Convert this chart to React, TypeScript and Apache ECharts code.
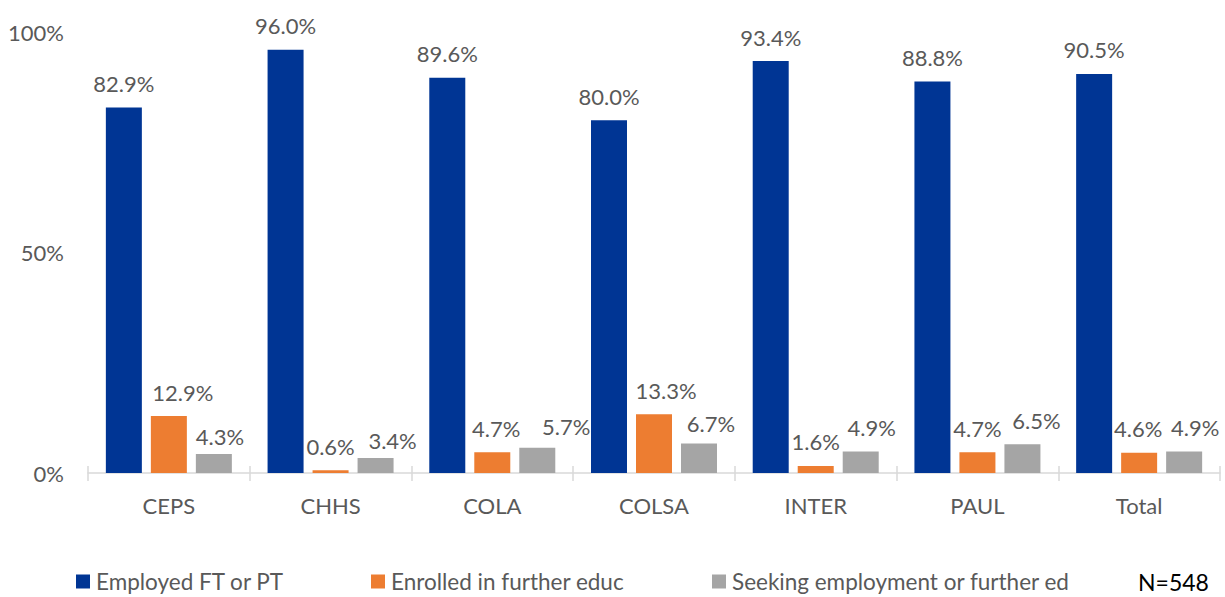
import React, { useEffect, useRef } from "react";
import * as echarts from "echarts";

const categories = ["CEPS", "CHHS", "COLA", "COLSA", "INTER", "PAUL", "Total"];
const employed = [82.9, 96.0, 89.6, 80.0, 93.4, 88.8, 90.5];
const enrolled = [12.9, 0.6, 4.7, 13.3, 1.6, 4.7, 4.6];
const seeking = [4.3, 3.4, 5.7, 6.7, 4.9, 6.5, 4.9];
const seriesNames = ["Employed FT or PT", "Enrolled in further educ", "Seeking employment or further ed"];
const colors = ["#003594", "#ED7D31", "#A5A5A5"];
const yTicks = [0, 50, 100];
const noteText = "N=548";

// label nudges (layout only), [dx, dy] per point, as hand-placed in the original
const labelNudges: number[][][] = [
  [[0, 0], [0, 0], [0, 0], [0, 0], [0, 0], [0, 0], [0, 0]],
  [[14, 0], [0, 0], [4, 0], [12, 0], [0, 0], [0, 0], [-1, 0]],
  [[6, 6], [17, 6], [29, 3], [12, 4], [11, 0], [14, 0], [11, 0]],
];

const FONT = "Lato";
const TEXT = "#595959";

export default function App() {
  const ref = useRef<HTMLDivElement>(null);
  useEffect(() => {
    const chart = echarts.init(ref.current!, null, { renderer: "svg" });
    const dataSets = [employed, enrolled, seeking];
    const legendLefts = [76, 371, 712];
    chart.setOption({
      animation: false,
      textStyle: { fontFamily: FONT },
      grid: { left: 88, right: 5, top: 32, bottom: 124, containLabel: false },
      xAxis: [
        {
          type: "category",
          data: categories,
          axisLine: { lineStyle: { color: "#D9D9D9", width: 1.5 } },
          axisTick: { show: true, alignWithLabel: false, length: 8, lineStyle: { color: "#D9D9D9", width: 1.5 } },
          axisLabel: { color: TEXT, fontSize: 22, fontFamily: FONT, margin: 21 },
        },
        {
          type: "category",
          data: categories,
          position: "bottom",
          axisLine: { show: false },
          axisTick: { show: true, inside: true, length: 7, lineStyle: { color: "#D9D9D9", width: 1.5 } },
          axisLabel: { show: false },
        },
      ],
      yAxis: {
        type: "value",
        min: 0,
        max: 100,
        interval: 50,
        splitLine: { show: false },
        axisLine: { show: false },
        axisTick: { show: false },
        axisLabel: {
          color: TEXT,
          fontSize: 22,
          fontFamily: FONT,
          margin: 24,
          formatter: (v: number) => (yTicks.includes(v) ? v + "%" : ""),
        },
      },
      legend: seriesNames.map((n, i) => ({
        data: [n],
        left: legendLefts[i],
        top: 570,
        padding: 0,
        itemWidth: 14,
        itemHeight: 14,
        icon: "rect",
        itemGap: 0,
        textStyle: { color: TEXT, fontSize: 22.5, fontFamily: FONT, padding: [0, 0, 0, 1] },
      })),
      graphic: [
        {
          type: "text",
          left: 1138,
          top: 570,
          style: { text: noteText, fontSize: 23, fontFamily: FONT, fill: "#000" },
        },
      ],
      series: seriesNames.map((n, i) => ({
        name: n,
        type: "bar",
        data: dataSets[i].map((v, j) => ({ value: v, label: { offset: labelNudges[i][j] } })),
        barWidth: 36,
        barGap: "25%",
        itemStyle: { color: colors[i] },
        label: {
          show: true,
          position: "top",
          distance: 13,
          color: TEXT,
          fontSize: 22,
          fontFamily: FONT,
          formatter: (p: any) => Number(p.value).toFixed(1) + "%",
        },
      })),
    });
    return () => chart.dispose();
  }, []);
  return <div ref={ref} style={{ width: 1225, height: 597, position: "absolute", left: 0, top: 0 }} />;
}
